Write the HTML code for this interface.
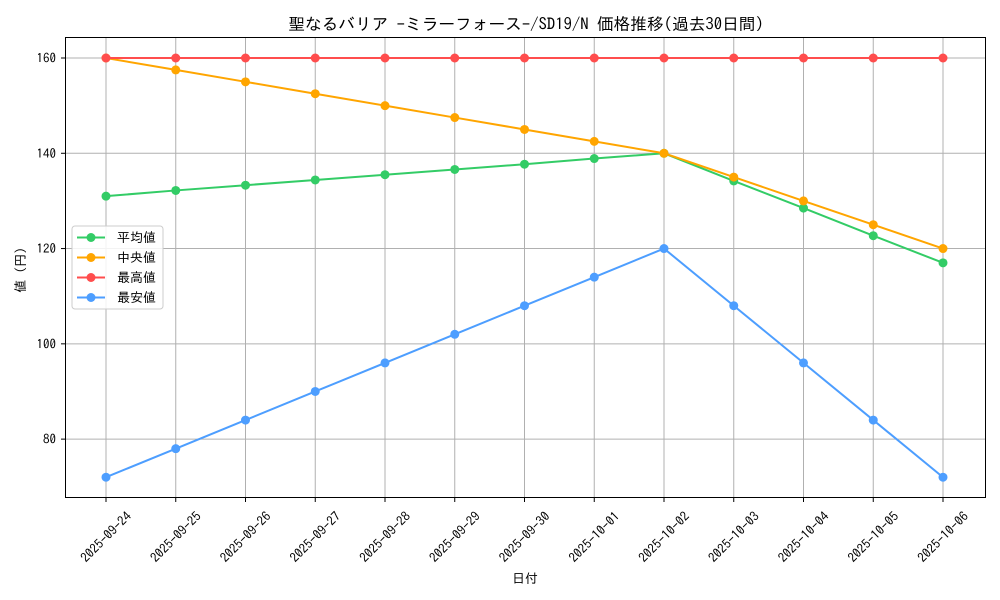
<!DOCTYPE html>
<html><head><meta charset="utf-8"><style>body{margin:0;background:#fff}svg{display:block;font-family:"IPAGothic","Noto Sans CJK JP",sans-serif}</style></head>
<body>
<svg width="1000" height="600" xmlns="http://www.w3.org/2000/svg">
<rect width="1000" height="600" fill="#fff"/>
<text x="526" y="30" text-anchor="middle" font-size="16.7" fill="#000">聖なるバリア -ミラーフォース-/SD19/N 価格推移(過去30日間)</text>
<g id="grid" stroke="#b0b0b0" stroke-width="1"></g>
<g id="series"></g>
<rect x="65.5" y="37.5" width="920" height="460" fill="none" stroke="#000" stroke-width="1"/>
<g id="ticks" font-size="13" fill="#000"></g>
<text x="525" y="583" text-anchor="middle" font-size="13">日付</text>
<text transform="translate(25,270) rotate(-90)" text-anchor="middle" font-size="13">値 (円)</text>
<g>
<rect x="72" y="226" width="91" height="83" rx="3" fill="#fff" fill-opacity="0.85" stroke="#ccc"/>
<line x1="77" y1="237.5" x2="105" y2="237.5" stroke="#33cc66" stroke-width="2"/><circle cx="91" cy="237.5" r="4.5" fill="#33cc66"/><text x="117" y="242" font-size="13">平均値</text>
<line x1="77" y1="257.5" x2="105" y2="257.5" stroke="#ffa500" stroke-width="2"/><circle cx="91" cy="257.5" r="4.5" fill="#ffa500"/><text x="117" y="262" font-size="13">中央値</text>
<line x1="77" y1="277.5" x2="105" y2="277.5" stroke="#ff4d4d" stroke-width="2"/><circle cx="91" cy="277.5" r="4.5" fill="#ff4d4d"/><text x="117" y="282" font-size="13">最高値</text>
<line x1="77" y1="297.5" x2="105" y2="297.5" stroke="#4d9eff" stroke-width="2"/><circle cx="91" cy="297.5" r="4.5" fill="#4d9eff"/><text x="117" y="302" font-size="13">最安値</text>
</g>
<script>
(function(){
var ns="http://www.w3.org/2000/svg";
function X(i){return 106+i*69.75}
function Y(v){return 58+(160-v)*4.764}
function el(t,a,p,txt){var e=document.createElementNS(ns,t);for(var k in a)e.setAttribute(k,a[k]);if(txt)e.textContent=txt;p.appendChild(e);return e}
var g=document.getElementById('grid'),s=document.getElementById('series'),tk=document.getElementById('ticks');
var dates=["2025-09-24","2025-09-25","2025-09-26","2025-09-27","2025-09-28","2025-09-29","2025-09-30","2025-10-01","2025-10-02","2025-10-03","2025-10-04","2025-10-05","2025-10-06"];
for(var i=0;i<13;i++){var x=X(i);el('line',{x1:x,y1:37.5,x2:x,y2:497.5},g);
el('line',{x1:x,y1:497.5,x2:x,y2:502,stroke:'#000'},tk);
var cy=537;
el('text',{x:x,y:cy+4.5,'text-anchor':'middle',transform:'rotate(-45 '+x+' '+cy+')'},tk,dates[i]);}
[80,100,120,140,160].forEach(function(v){var y=Y(v);el('line',{x1:65.5,y1:y,x2:985.5,y2:y},g);
el('line',{x1:61,y1:y,x2:65.5,y2:y,stroke:'#000'},tk);el('text',{x:56,y:y+4.5,'text-anchor':'end'},tk,String(v));});
var data=[["#33cc66",[131,132.2,133.3,134.4,135.5,136.6,137.7,138.9,140,134.2,128.5,122.7,117]],
["#ffa500",[160,157.5,155,152.5,150,147.5,145,142.5,140,135,130,125,120]],
["#ff4d4d",[160,160,160,160,160,160,160,160,160,160,160,160,160]],
["#4d9eff",[72,78,84,90,96,102,108,114,120,108,96,84,72]]];
data.forEach(function(d){var pts=d[1].map(function(v,i){return X(i)+','+Y(v)}).join(' ');
el('polyline',{points:pts,fill:'none',stroke:d[0],'stroke-width':2},s);
d[1].forEach(function(v,i){el('circle',{cx:X(i),cy:Y(v),r:4.5,fill:d[0]},s)});});
})();
</script>
</svg>
</body></html>
